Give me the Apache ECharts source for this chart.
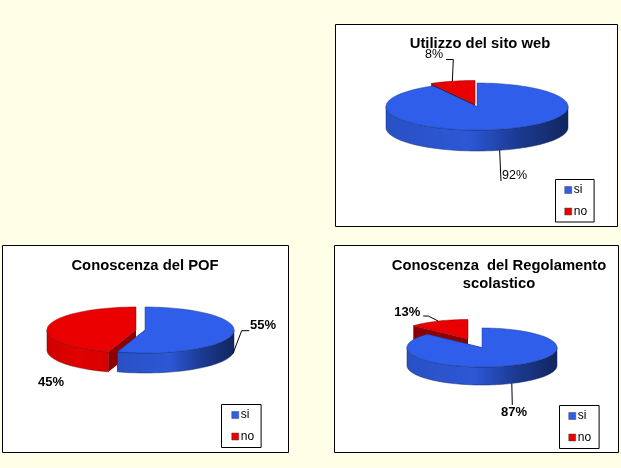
<!DOCTYPE html>
<html><head><meta charset="utf-8">
<style>html,body{margin:0;padding:0;background:#FFFFE7}#c{width:621px;height:468px}</style>
<script src="https://cdn.jsdelivr.net/npm/echarts@6/dist/echarts.min.js"></script>
</head><body><div id="c"></div>
<script>
const chartTitles = ['Utilizzo del sito web', 'Conoscenza del POF', 'Conoscenza  del Regolamento\nscolastico'];
const legendLabels = ['si', 'no'];
const siValues = [92, 55, 87];
const noValues = [8, 45, 13];

const FONT = '"Liberation Sans", Arial, sans-serif';
const BLUE = '#2F5FEA', RED = '#EA0000';
const panels = [
  { frame:[335.5,24.5,282,202], title:[480,35], legend:[555.5,179.5], pad:[4.5,7,4.5,9], c:[477,106.5], r:[91,23.5], d:21, off:[-2,-2.5], bold:false,
    si:{elbow:null,end:[501,181],text:[502,176,'left']}, no:{elbow:[453.3,59.5],end:[446,59.5],text:[434,55,'center']} },
  { frame:[2.5,245.5,286,207], title:[145,257], legend:[221.5,404.5], pad:[4.5,7,5,10], c:[145,330], r:[89,23], d:20, off:[-9,0], bold:true,
    si:{elbow:[241.7,330.7],end:[249.3,330.7],text:[250,325.7,'left']}, no:{elbow:null,end:null,text:[51,382.7,'center']} },
  { frame:[334.5,245.5,284,207], title:[499,257], legend:[559.5,405.5], pad:[4.5,8,5,9], c:[482,347.5], r:[75,19.5], d:18, off:[-14,-8.5], bold:true,
    si:{elbow:null,end:[512.3,405],text:[514,412.3,'center']}, no:{elbow:[428.3,316],end:[423.3,316],text:[407.3,312.3,'center']} }
];

function pt(g, deg, ox, oy) {
  const a = deg * Math.PI / 180;
  return [g.c[0] + ox + g.r[0] * Math.sin(a), g.c[1] + oy - g.r[1] * Math.cos(a)];
}
function arc(g, from, to, ox, oy, dy) {
  const pts = [], n = Math.max(2, Math.ceil(Math.abs(to - from) / 2));
  for (let i = 0; i <= n; i++) { const p = pt(g, from + (to - from) * i / n, ox, oy); pts.push([p[0], p[1] + dy]); }
  return pts;
}
function grad(stops) {
  return new echarts.graphic.LinearGradient(0, 0, 1, 0, stops.map((s) => ({ offset: s[0], color: s[1] })));
}
const poly = (points, fill, stroke, lw, z2) => ({ type:'polygon', z2, shape:{ points }, style:{ fill, stroke: stroke || null, lineWidth: lw || 0 } });

function sliceRenderer(pi, kind) {
  return function (params, api) {
    const g = panels[pi], v = api.value(0), sweep = v * 3.6;
    const isSi = kind === 'si';
    const from = isSi ? 0 : 360 - sweep, to = isSi ? sweep : 360;
    const ox = isSi ? 0 : g.off[0], oy = isSi ? 0 : g.off[1];
    const apex = [g.c[0] + ox, g.c[1] + oy];
    const kids = [];
    const cut = isSi ? '#1c3a96' : '#8E0000';
    [from, to].forEach((t) => {
      const p = pt(g, t, ox, oy);
      kids.push(poly([apex, p, [p[0], p[1] + g.d], [apex[0], apex[1] + g.d]], cut, null, 0, 1));
    });
    const a = Math.max(from, 90), b = Math.min(to, 270);
    if (b > a) {
      const upper = arc(g, a, b, ox, oy, 0), lower = arc(g, b, a, ox, oy, g.d);
      const fill = isSi
        ? grad([[0,'#2A50C4'],[0.45,'#2C58D6'],[0.72,'#1C3A92'],[1,'#11265F']])
        : grad([[0,'#D00000'],[0.5,'#E00000'],[1,'#D80000']]);
      kids.push(poly(upper.concat(lower), fill, isSi ? '#12286A' : '#6A0000', 0.5, 2));
    }
    const top = [apex].concat(arc(g, from, to, ox, oy, 0));
    kids.push(poly(top, isSi ? BLUE : RED, isSi ? '#1C3A92' : '#8E0000', 0.5, 3));
    const lab = g[kind], mid = (from + to) / 2;
    const anchor = pt(g, mid, ox, oy);
    if (mid > 90 && mid < 270) anchor[1] += g.d;
    if (lab.end) {
      const pts = lab.elbow ? [anchor, lab.elbow, lab.end] : [anchor, lab.end];
      kids.push({ type:'polyline', z2:4, shape:{ points: pts }, style:{ fill:null, stroke:'#000', lineWidth:1 } });
    }
    kids.push({ type:'text', z2:5, style:{ text: v + '%', x: lab.text[0], y: lab.text[1], align: lab.text[2], verticalAlign:'middle',
      fill:'#000', font:(g.bold ? 'bold 13px ' : '12.5px ') + FONT } });
    return { type:'group', children: kids };
  };
}

const series = [];
panels.forEach((g, i) => {
  series.push({ type:'custom', name:legendLabels[1], coordinateSystem:'none', data:[[noValues[i]]], renderItem:sliceRenderer(i,'no'), itemStyle:{ color:RED }, z:2, silent:true, clip:false });
  series.push({ type:'custom', name:legendLabels[0], coordinateSystem:'none', data:[[siValues[i]]], renderItem:sliceRenderer(i,'si'), itemStyle:{ color:BLUE }, z:3, silent:true, clip:false });
});

const chart = echarts.init(document.getElementById('c'), null, { renderer:'canvas' });
chart.setOption({
  animation:false,
  backgroundColor:'#FFFFE7',
  title: panels.map((g, i) => ({
    text: chartTitles[i], left: g.title[0], top: g.title[1], textAlign:'center', padding:0,
    textStyle:{ fontFamily:FONT, fontWeight:'bold', fontSize:14.8, color:'#000', lineHeight:18 }
  })),
  legend: panels.map((g) => ({
    show:true, orient:'vertical', left:g.legend[0], top:g.legend[1], data:legendLabels, icon:'rect',
    itemWidth:7, itemHeight:7, itemGap:9.5, padding:g.pad, selectedMode:false,
    backgroundColor:'#fff', borderColor:'#000', borderWidth:1, borderRadius:0,
    itemStyle:{ borderColor:'#444', borderWidth:0.5 },
    textStyle:{ fontFamily:FONT, fontSize:12, color:'#000', padding:[0,0,0,-3] }
  })),
  graphic: panels.map((g) => ({
    type:'rect', z:-1, silent:true,
    shape:{ x:g.frame[0], y:g.frame[1], width:g.frame[2], height:g.frame[3] },
    style:{ fill:'#fff', stroke:'#000', lineWidth:1 }
  })),
  series
});
</script></body></html>
